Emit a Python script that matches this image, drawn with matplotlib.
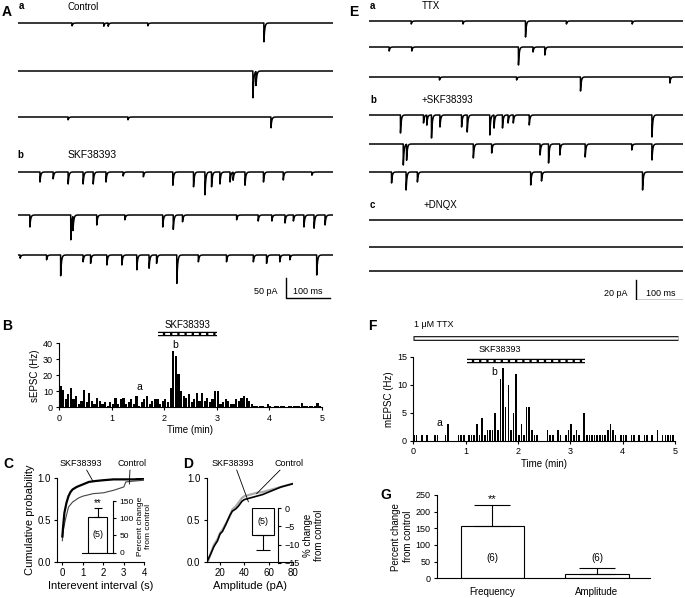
import numpy as np
import matplotlib
matplotlib.use("Agg")
import matplotlib.pyplot as plt

plt.rcParams['font.family'] = ['Liberation Sans', 'DejaVu Sans']
plt.rcParams['font.size'] = 6.5
plt.rcParams['axes.linewidth'] = 0.8
plt.rcParams['xtick.major.width'] = 0.8
plt.rcParams['ytick.major.width'] = 0.8
plt.rcParams['xtick.major.size'] = 2.5
plt.rcParams['ytick.major.size'] = 2.5
plt.rcParams['xtick.major.pad'] = 2
plt.rcParams['ytick.major.pad'] = 2

W, H = 685, 598

# ---- data ----
# panel A: event (time ms, amplitude pA) per trace row
A_ctrl_rows = [
    [(123, 7), (195, 8), (205, 8), (295, 7), (559, 47)],
    [(534, 67), (541, 35)],
    [(114, 7), (250, 7), (575, 27)],
]
A_skf_rows = [
    [(50, 25), (80, 17), (114, 30), (148, 30), (171, 30), (200, 25), (239, 10), (285, 12),
     (352, 33), (399, 37), (425, 57), (440, 37), (459, 30), (482, 25), (489, 20), (516, 33),
     (558, 25), (603, 20), (668, 8)],
    [(27, 30), (120, 62), (125, 35), (179, 25), (243, 12), (329, 30), (353, 36), (374, 17),
     (497, 12), (546, 15), (577, 15), (607, 20), (626, 15), (650, 30), (673, 33), (698, 25)],
    [(5, 8), (65, 12), (97, 52), (148, 17), (165, 21), (202, 25), (236, 25), (270, 37),
     (298, 33), (315, 21), (361, 71), (410, 17), (474, 17), (535, 17), (565, 21), (595, 17),
     (618, 12), (679, 50)],
]
# panel E: event (time ms, amplitude pA)
E_ttx_rows = [
    [(90, 3), (200, 3), (333, 16), (420, 3), (560, 3)],
    [(43, 4), (91, 4), (318, 18), (349, 5), (374, 8)],
    [(150, 3), (314, 3), (450, 14), (640, 6)],
]
E_skf_rows = [
    [(67, 18), (116, 8), (123, 10), (133, 23), (151, 12), (197, 12), (209, 17), (257, 20),
     (266, 13), (284, 13), (296, 8), (307, 8), (341, 10), (602, 22)],
    [(73, 21), (80, 16), (222, 14), (261, 9), (364, 11), (382, 19), (406, 11), (460, 13),
     (559, 6), (602, 16)],
    [(48, 11), (79, 18), (103, 10), (344, 13), (367, 9), (582, 18)],
]
E_dnqx_rows = [[], [], []]

# panel B: sEPSC frequency (Hz), 0.05 min bins, 0-5 min
B_bin = 0.05
B_hz = [13, 11, 5, 8, 12, 5, 7, 2, 4, 11, 3, 9, 4, 2, 6, 4, 2, 3, 1, 3,
        2, 6, 2, 5, 6, 2, 3, 5, 2, 7, 1, 3, 5, 7, 2, 4, 5, 5, 2, 4,
        5, 3, 12, 35, 32, 21, 10, 7, 6, 8, 3, 5, 9, 4, 9, 4, 6, 3, 5, 10,
        10, 2, 3, 5, 4, 2, 2, 5, 4, 6, 7, 6, 4, 2, 1, 1, 0.5, 0.5, 0, 2,
        1, 0, 1, 0.5, 1, 1, 0, 1, 0.5, 1, 1, 0.5, 2.5, 0.5, 1, 1, 0.5, 1, 2.5, 0.5]

# panel F: mEPSC frequency (Hz), 0.05 min bins
F_bin = 0.05
F_hz = [1, 1, 0, 1, 0, 1, 0, 0, 1, 1, 0, 0, 1, 3, 0, 0, 0, 1, 1, 1,
        0, 1, 1, 1, 3, 1, 4, 1, 2, 2, 2, 5, 2, 11, 13, 6, 10, 2, 5, 12,
        1, 3, 1, 6, 6, 2, 1, 1, 0, 0, 0, 2, 1, 1, 0, 2, 1, 0, 1, 2,
        3, 1, 2, 1, 0, 5, 1, 1, 1, 1, 1, 1, 1, 1, 2, 3, 2, 1, 0, 1,
        1, 1, 0, 1, 1, 0, 1, 0, 1, 1, 0, 1, 0, 2, 0, 1, 1, 1, 1, 1]

# panel C: cumulative interevent interval
C_skf_x = [0, 0.05, 0.1, 0.2, 0.3, 0.4, 0.5, 0.7, 1.0, 1.3, 1.6, 2.0, 2.5, 3.0, 3.5, 4.0]
C_skf_y = [0.30, 0.45, 0.58, 0.70, 0.78, 0.83, 0.86, 0.89, 0.92, 0.95, 0.96, 0.97, 0.98, 0.98, 0.98, 0.99]
C_ctl_x = [0, 0.05, 0.15, 0.3, 0.5, 0.8, 1.0, 1.5, 2.0, 2.5, 3.0, 3.1, 3.5, 4.0]
C_ctl_y = [0.25, 0.38, 0.50, 0.65, 0.71, 0.76, 0.78, 0.81, 0.82, 0.85, 0.89, 0.95, 0.96, 0.97]
C_pct, C_err, C_n = 105, 24, 5

# panel D: cumulative amplitude
D_x = [10, 12, 15, 18, 20, 22, 25, 28, 30, 33, 35, 38, 40, 45, 50, 55, 60, 65, 70, 75, 80]
D_skf_y = [0.02, 0.08, 0.18, 0.25, 0.33, 0.36, 0.45, 0.55, 0.60, 0.63, 0.66, 0.72, 0.74,
           0.76, 0.78, 0.80, 0.83, 0.86, 0.89, 0.91, 0.93]
D_ctl_y = [0.0, 0.08, 0.20, 0.27, 0.34, 0.38, 0.46, 0.54, 0.62, 0.66, 0.70, 0.76, 0.78,
           0.80, 0.82, 0.83, 0.85, 0.87, 0.89, 0.91, 0.93]
D_pct, D_err, D_n = -7.4, 4.1, 5

# panel G
G_cats = ['Frequency', 'Amplitude']
G_vals = [157, 13]
G_errs = [62, 19]
G_n = [6, 6]


def box(l, t, r, b):
    return [l / W, 1 - b / H, (r - l) / W, (b - t) / H]


def ftext(x, y, s, **kw):
    fig.text(x / W, 1 - y / H, s, va='center', **kw)


def draw_trace(ax, base, events, tmax, tau):
    t = np.arange(0, tmax, 0.2)
    y = np.full_like(t, float(base))
    for t0, a in events:
        m = t >= t0
        y[m] -= a * np.exp(-(t[m] - t0) / tau)
    ax.plot(t, y, color='k', lw=1.1)


def drug_bar(ax, x0, x1, y):
    ax.plot([x0, x1], [y, y], color='k', lw=3.2, solid_capstyle='butt', clip_on=False)
    ax.plot([x0, x1], [y, y], color='white', lw=1.4, dashes=(2.5, 1.2), clip_on=False)


fig = plt.figure(figsize=(W / 100, H / 100), dpi=100)

# ---- A traces ----
axA = fig.add_axes(box(18, 10, 333, 300))
axA.set_xlim(0, 716)
axA.set_ylim(-725, 0)
axA.axis('off')
for base, ev in zip([-32.5, -152.5, -267.5], A_ctrl_rows):
    draw_trace(axA, base, ev, 716, 1.8)
for base, ev in zip([-405, -512.5, -612.5], A_skf_rows):
    draw_trace(axA, base, ev, 716, 1.8)
axA.plot([609, 609, 709], [-670, -720, -720], color='k', lw=1.0)
axA.text(590, -705, '50 pA', ha='right', va='center', fontsize=6.5)
axA.text(659, -705, '100 ms', ha='center', va='center', fontsize=6.5)

# ---- E traces ----
axE = fig.add_axes(box(369, 10, 683, 300))
axE.set_xlim(0, 668)
axE.set_ylim(-290, 0)
axE.axis('off')
for base, ev in zip([-11, -37, -67], E_ttx_rows):
    draw_trace(axE, base, ev, 668, 1.6)
for base, ev in zip([-105, -134, -162], E_skf_rows):
    draw_trace(axE, base, ev, 668, 1.6)
for base, ev in zip([-210, -237, -261], E_dnqx_rows):
    draw_trace(axE, base, ev, 668, 1.6)
axE.plot([568, 568, 668], [-270, -290, -290], color='k', lw=1.0)
axE.text(550, -283, '20 pA', ha='right', va='center', fontsize=6.5)
axE.text(620, -283, '100 ms', ha='center', va='center', fontsize=6.5)

# ---- B ----
axB = fig.add_axes(box(59.3, 343.3, 321.7, 407.3))
xb = np.arange(len(B_hz)) * B_bin
axB.bar(xb, B_hz, width=B_bin * 0.85, align='edge', color='k', edgecolor='none')
axB.set_xlim(0, 5)
axB.set_ylim(0, 40)
axB.set_yticks([0, 10, 20, 30, 40])
axB.set_xticks([0, 1, 2, 3, 4, 5])
axB.spines[['top', 'right']].set_visible(False)
axB.set_xlabel('Time (min)', fontsize=7, labelpad=2)
axB.set_ylabel('sEPSC (Hz)', fontsize=7, labelpad=2)
drug_bar(axB, 1.89, 3.01, 45.6)
axB.text(2.45, 51.5, 'SKF38393', ha='center', va='center', fontsize=7, clip_on=False)
axB.text(2.21, 38.9, 'b', ha='center', va='center', fontsize=7.5)
axB.text(1.53, 12.5, 'a', ha='center', va='center', fontsize=7.5)

# ---- F ----
axF = fig.add_axes(box(413.3, 356.7, 675, 440.7))
xf = np.arange(len(F_hz)) * F_bin
axF.bar(xf, F_hz, width=F_bin * 0.6, align='edge', color='k', edgecolor='none')
axF.set_xlim(0, 5)
axF.set_ylim(0, 15)
axF.set_yticks([0, 5, 10, 15])
axF.set_xticks([0, 1, 2, 3, 4, 5])
axF.spines[['top', 'right']].set_visible(False)
axF.set_xlabel('Time (min)', fontsize=7, labelpad=2)
axF.set_ylabel('mEPSC (Hz)', fontsize=7, labelpad=2)
axF.plot([0, 5.06], [18.3, 18.3], color='k', lw=3.4, solid_capstyle='butt', clip_on=False)
axF.plot([0.01, 5.05], [18.3, 18.3], color='white', lw=1.8, solid_capstyle='butt', clip_on=False)
axF.text(0.02, 20.7, '1 \u03bcM TTX', ha='left', va='center', fontsize=6.5, clip_on=False)
drug_bar(axF, 1.02, 3.28, 14.3)
axF.text(1.24, 16.2, 'SKF38393', ha='left', va='center', fontsize=6.5, clip_on=False)
axF.text(1.54, 12.3, 'b', ha='center', va='center', fontsize=7.5)
axF.text(0.5, 3.1, 'a', ha='center', va='center', fontsize=7.5)

# ---- C ----
axC = fig.add_axes(box(57, 477.7, 144.3, 561.7))
axC.plot(C_ctl_x, C_ctl_y, color='#444444', lw=0.8)
axC.plot(C_skf_x, C_skf_y, color='k', lw=1.6)
axC.set_xlim(-0.26, 4)
axC.set_ylim(0, 1.0)
axC.set_xticks([0, 1, 2, 3, 4])
axC.set_yticks([0, 0.5, 1.0])
axC.set_yticklabels(['0.0', '0.5', '1.0'])
axC.spines[['top', 'right']].set_visible(False)
axC.tick_params(labelsize=7)
axC.set_xlabel('Interevent interval (s)', fontsize=8, labelpad=2)
axC.set_ylabel('Cumulative probability', fontsize=8, labelpad=2)
axC.plot([1.19, 1.48], [1.09, 0.964], color='k', lw=0.6, clip_on=False)
axC.plot([3.3, 3.27], [1.09, 0.925], color='k', lw=0.6, clip_on=False)
axC.text(0.9, 1.17, 'SKF38393', ha='center', va='center', fontsize=6.5, clip_on=False)
axC.text(3.4, 1.17, 'Control', ha='center', va='center', fontsize=6.5, clip_on=False)

axCi = fig.add_axes(box(82, 501, 113.3, 552.7))
axCi.bar(0.5, C_pct, width=0.6, color='white', edgecolor='k', lw=0.8)
axCi.errorbar(0.5, C_pct, yerr=[[0], [C_err]], color='k', lw=0.8, capsize=3, capthick=0.8)
axCi.text(0.5, C_pct + C_err + 14, '**', ha='center', va='center', fontsize=7)
axCi.text(0.5, 52, '(%d)' % C_n, ha='center', va='center', fontsize=6.5)
axCi.set_xlim(0, 1)
axCi.set_ylim(0, 150)
axCi.patch.set_alpha(0)
axCi.spines[['top', 'left']].set_visible(False)
axCi.yaxis.tick_right()
axCi.yaxis.set_label_position('right')
axCi.set_yticks([0, 50, 100, 150])
axCi.set_xticks([])
axCi.tick_params(labelsize=6)
axCi.set_ylabel('Percent change\nfrom control', fontsize=6, labelpad=2)

# ---- D ----
axD = fig.add_axes(box(206.7, 477.7, 293.3, 561.7))
axD.plot(D_x, D_ctl_y, color='#aaaaaa', lw=1.6)
axD.plot(D_x, D_skf_y, color='k', lw=1.2)
axD.set_xlim(9.1, 80)
axD.set_ylim(0, 1.0)
axD.set_xticks([20, 40, 60, 80])
axD.set_yticks([0, 0.5, 1.0])
axD.set_yticklabels(['0.0', '0.5', '1.0'])
axD.spines[['top', 'right']].set_visible(False)
axD.tick_params(labelsize=7)
axD.set_xlabel('Amplitude (pA)', fontsize=8, labelpad=2)
axD.plot([33.7, 43.2], [1.09, 0.714], color='k', lw=0.6, clip_on=False)
axD.plot([69.1, 50], [1.09, 0.81], color='k', lw=0.6, clip_on=False)
axD.text(30.5, 1.17, 'SKF38393', ha='center', va='center', fontsize=6.5, clip_on=False)
axD.text(76.5, 1.17, 'Control', ha='center', va='center', fontsize=6.5, clip_on=False)

axDi = fig.add_axes(box(245, 508.3, 278.3, 562.7))
axDi.bar(0.535, D_pct, width=0.67, color='white', edgecolor='k', lw=0.8)
axDi.errorbar(0.535, D_pct, yerr=[[D_err], [0]], color='k', lw=0.8, capsize=5, capthick=0.8)
axDi.text(0.535, -3.6, '(%d)' % D_n, ha='center', va='center', fontsize=6.5)
axDi.set_xlim(0, 1)
axDi.set_ylim(-15, 0)
axDi.patch.set_alpha(0)
axDi.spines[['top', 'left', 'bottom']].set_visible(False)
axDi.yaxis.tick_right()
axDi.yaxis.set_label_position('right')
axDi.set_yticks([0, -5, -10, -15])
axDi.set_yticklabels(['0', '\u22125', '\u221210', '\u221215'])
axDi.set_xticks([])
axDi.tick_params(labelsize=6.5)
axDi.set_ylabel('% change\nfrom control', fontsize=7, labelpad=2)

# ---- G ----
axG = fig.add_axes(box(436.7, 495, 650, 578.3))
xg = np.arange(len(G_cats))
axG.bar(xg, G_vals, width=0.605, color='white', edgecolor='k', lw=0.8)
axG.errorbar(xg, G_vals, yerr=[[0, 0], G_errs], fmt='none', ecolor='k', elinewidth=0.8,
             capsize=13, capthick=0.8)
axG.text(0, G_vals[0] + G_errs[0] + 20, '**', ha='center', va='center', fontsize=8)
axG.text(0, 60, '(%d)' % G_n[0], ha='center', va='center', fontsize=7)
axG.text(1, 60, '(%d)' % G_n[1], ha='center', va='center', fontsize=7)
axG.set_xlim(-0.531, 1.506)
axG.set_ylim(0, 250)
axG.set_yticks([0, 50, 100, 150, 200, 250])
axG.set_xticks(xg)
axG.set_xticklabels(G_cats, fontsize=7)
axG.tick_params(axis='x', length=0, pad=6)
axG.tick_params(axis='y', labelsize=6.5)
axG.spines[['top', 'right']].set_visible(False)
axG.set_ylabel('Percent change\nfrom control', fontsize=7, labelpad=2)

# ---- panel letters and labels ----
for x, y, s in [(2, 12, 'A'), (349, 12, 'E'), (2, 326, 'B'), (368, 326, 'F'),
                (3, 464, 'C'), (183, 464, 'D'), (380, 495, 'G')]:
    ftext(x, y, s, fontsize=10, fontweight='bold', ha='left')
for x, y, s in [(19, 6, 'a'), (17, 155, 'b'), (370, 6, 'a'), (370, 100, 'b'), (370, 205, 'c')]:
    ftext(x, y, s, fontsize=7, fontweight='bold', ha='left')
ftext(67, 7, 'Control', fontsize=7, ha='left')
ftext(68, 155, 'SKF38393', fontsize=7.5, ha='left')
ftext(422, 6, 'TTX', fontsize=7, ha='left')
ftext(422, 100, '+SKF38393', fontsize=7, ha='left')
ftext(424, 205, '+DNQX', fontsize=7, ha='left')

fig.savefig('out.png', dpi=100)
